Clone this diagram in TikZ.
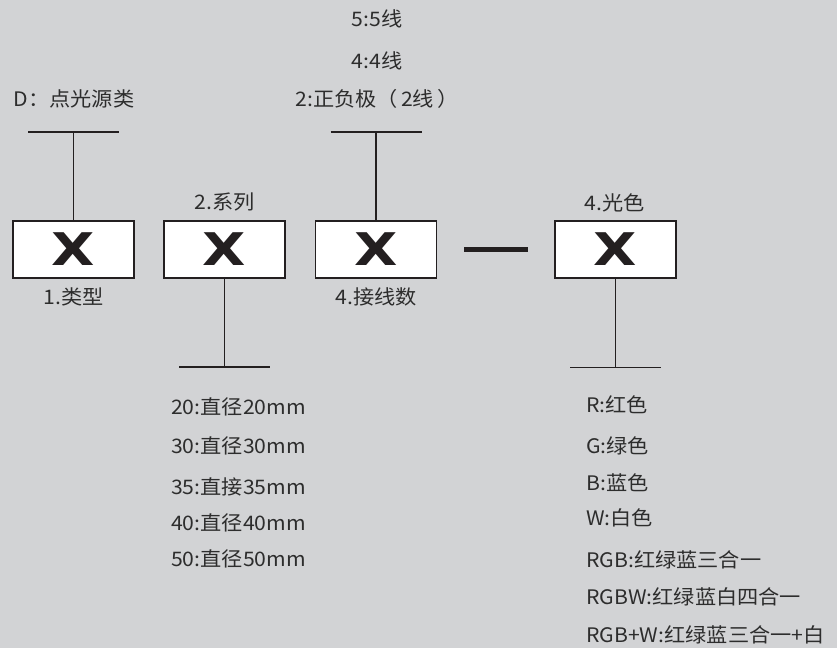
\documentclass[tikz,border=0pt]{standalone}
\usepackage{fontspec}
\setmainfont{Noto Sans CJK SC}[FakeStretch=1.06]
\newfontfamily\xfont{DejaVu Sans}[FakeStretch=1.25]
\definecolor{bggray}{RGB}{210,211,213}
\definecolor{ink}{RGB}{35,31,32}
\definecolor{txt}{RGB}{45,45,45}

\begin{document}
\begin{tikzpicture}[x=1pt,y=-1pt,
  cell/.style={draw=ink,line width=1.3pt,fill=white,minimum width=121pt,
    minimum height=57pt,inner sep=0pt,text=ink,
    font=\xfont\bfseries\fontsize{45}{45}\selectfont},
  lab/.style={font=\fontsize{20}{20}\selectfont,text=txt,inner sep=0pt},
  bar/.style={draw=ink,line width=1.2pt}]
  \fill[bggray] (0,0) rectangle (837,648);
  \useasboundingbox (0,0) rectangle (837,648);
  % code boxes
  \node[cell] (b1) at (73.5,249.5) {X};
  \node[cell] (b2) at (224.5,249.5) {X};
  \node[cell] (b3) at (376,249.5) {X};
  \node[cell] (b4) at (615.5,249.5) {X};
  \draw[draw=ink,line width=5pt,shorten <=27pt,shorten >=26pt] (b3) -- (b4);
  % T-bars
  \coordinate (t1) at (73.5,132);
  \coordinate (t3) at (376,132);
  \coordinate (t2) at (224.5,367);
  \coordinate (t4) at (615.5,367.5);
  \foreach \i in {1,2,3,4} {
    \draw[bar] (b\i) -- (t\i);
    \draw[bar] ([xshift=-45.5pt]t\i) -- ([xshift=45.5pt]t\i);
  }
  % labels
  \node[lab] (type) at (74,99) {D：点光源类};
  \node[lab] (wire5) at (377,19) {5:5线};
  \node[lab] (wire4) at (377,61) {4:4线};
  \node[lab] (wire2) at (377,99) {2:正负极（\,2线\,）};
  \node[lab] (n1) at (74,297) {1.类型};
  \node[lab] (n2) at (225,202) {2.系列};
  \node[lab] (n3) at (376,297) {4.接线数};
  \node[lab] (n4) at (615,203) {4.光色};
  \foreach \y/\t [count=\i] in
    {407/20:直径20mm, 446/30:直径30mm, 487/35:直接35mm, 523/40:直径40mm,
     559/50:直径50mm}
    \node[lab,anchor=west] (size\i) at (171,\y) {\t};
  \foreach \y/\t [count=\i] in
    {405/R:红色, 446/G:绿色, 483/B:蓝色, 518/W:白色, 560/RGB:红绿蓝三合一,
     597/RGBW:红绿蓝白四合一, 635/RGB+W:红绿蓝三合一+白}
    \node[lab,anchor=west] (col\i) at (586,\y) {\t};
\end{tikzpicture}
\end{document}
